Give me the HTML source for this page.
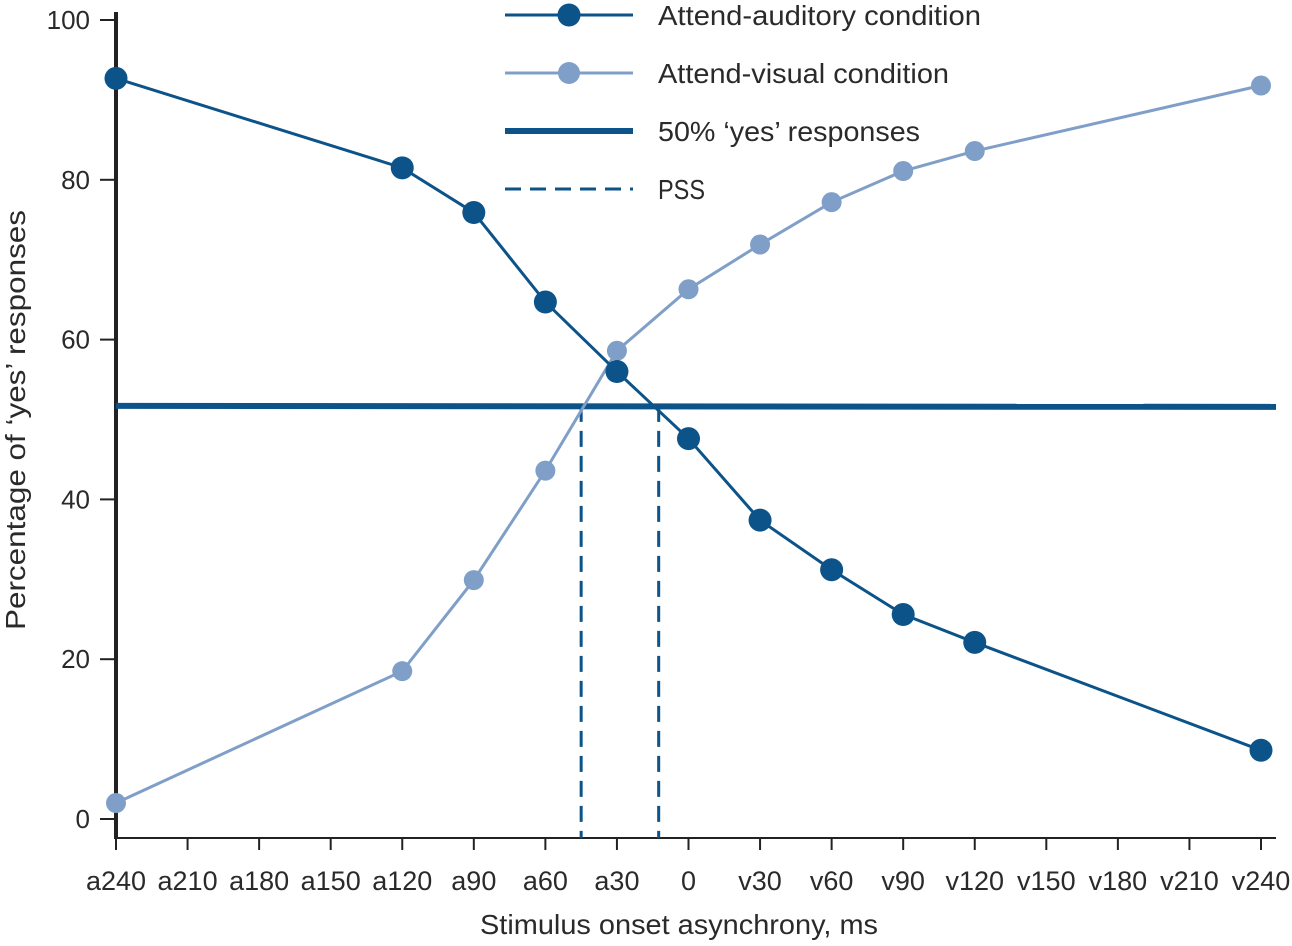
<!DOCTYPE html>
<html><head><meta charset="utf-8"><style>
body{margin:0;background:#fff}
svg text{font-family:"Liberation Sans","DejaVu Sans",sans-serif;fill:#2a2a2a}
</style></head><body>
<svg width="1292" height="941" id="c">
</svg>
<script>
const categories=["a240","a210","a180","a150","a120","a90","a60","a30","0","v30","v60","v90","v120","v150","v180","v210","v240"];
const catMs=[-240,-210,-180,-150,-120,-90,-60,-30,0,30,60,90,120,150,180,210,240];
const auditoryX=[-240,-120,-90,-60,-30,0,30,60,90,120,240];
const auditoryY=[92.7,81.5,75.9,64.7,56.0,47.6,37.4,31.2,25.6,22.1,8.6];
const visualX=[-240,-120,-90,-60,-30,0,30,60,90,120,240];
const visualY=[2.0,18.5,29.9,43.6,58.6,66.3,71.9,77.2,81.1,83.6,91.8];
const yTicks=[0,20,40,60,80,100];
const fiftyLine=51.7;
const pss=[-45,-12.5];
const NS="http://www.w3.org/2000/svg";
const svg=document.getElementById('c');
const xs=ms=>116+(ms+240)/480*1145;
const ys=v=>819-v*7.99;
const DARK="#0b5389",LIGHT="#7f9fc8";
function el(tag,attrs,parent){const e=document.createElementNS(NS,tag);for(const k in attrs)e.setAttribute(k,attrs[k]);(parent||svg).appendChild(e);return e;}
function txt(s,attrs){const t=el('text',attrs);t.textContent=s;return t;}
let a=el('line',{x1:116,y1:12,x2:116,y2:839,stroke:"#222","stroke-width":4});


a=el('line',{x1:114,y1:838,x2:1276,y2:838,stroke:"#222","stroke-width":2});


yTicks.forEach(v=>{
 const tk=el('line',{x1:100,x2:116,y1:ys(v),y2:ys(v),stroke:"#222","stroke-width":2});
 
 
 const t=txt(String(v),{x:90,y:ys(v)+9,"text-anchor":"end","font-size":26});
 
 
});
categories.forEach((c,i)=>{
 const x=xs(catMs[i]);
 const tk=el('line',{x1:x,x2:x,y1:838,y2:850,stroke:"#222","stroke-width":2});
 
 
 const t=txt(c,{x:x,y:890,"text-anchor":"middle","font-size":27});
 
 
});
let t=txt("Stimulus onset asynchrony, ms",{x:480,y:934,"font-size":28,textLength:398,lengthAdjust:"spacingAndGlyphs"});


t=txt("Percentage of \u2018yes\u2019 responses",{x:0,y:0,"font-size":28,textLength:420,lengthAdjust:"spacingAndGlyphs",transform:"translate(25,630) rotate(-90)"});


let l=el('line',{x1:116,y1:ys(fiftyLine),x2:1276,y2:ys(fiftyLine)+1,stroke:DARK,"stroke-width":6});


pss.forEach(ms=>{
 const d=el('line',{x1:xs(ms),x2:xs(ms),y1:ys(fiftyLine),y2:838,stroke:DARK,"stroke-width":3,"stroke-dasharray":"16,9"});
 
 
});
function series(X,Y,col,r,name){
 const p=el('polyline',{points:X.map((x,i)=>xs(x)+","+ys(Y[i])).join(" "),fill:"none",stroke:col,"stroke-width":3});
 
 
 X.forEach((x,i)=>{
  const c=el('circle',{cx:xs(x),cy:ys(Y[i]),r:r,fill:col});
  
  
 });
}
series(visualX,visualY,LIGHT,10,'visual');
series(auditoryX,auditoryY,DARK,11.5,'auditory');
const leg=[["Attend-auditory condition",DARK,3,11.5,null,323],["Attend-visual condition",LIGHT,3,11,null,291],["50% \u2018yes\u2019 responses",DARK,6,0,null,262],["PSS",DARK,3,0,"16,9",47]];
leg.forEach((g,i)=>{
 const y=15+i*58;
 const ln=el('line',{x1:505,x2:633,y1:y,y2:y,stroke:g[1],"stroke-width":g[2]});
 if(g[4])ln.setAttribute('stroke-dasharray',g[4]);
 
 
 if(g[3]){const c=el('circle',{cx:569,cy:y,r:g[3],fill:g[1]});
  
  }
 const tt=txt(g[0],{x:658,y:y+10,"font-size":28,textLength:g[5],lengthAdjust:"spacingAndGlyphs"});
 
 
});
</script>
</body></html>
